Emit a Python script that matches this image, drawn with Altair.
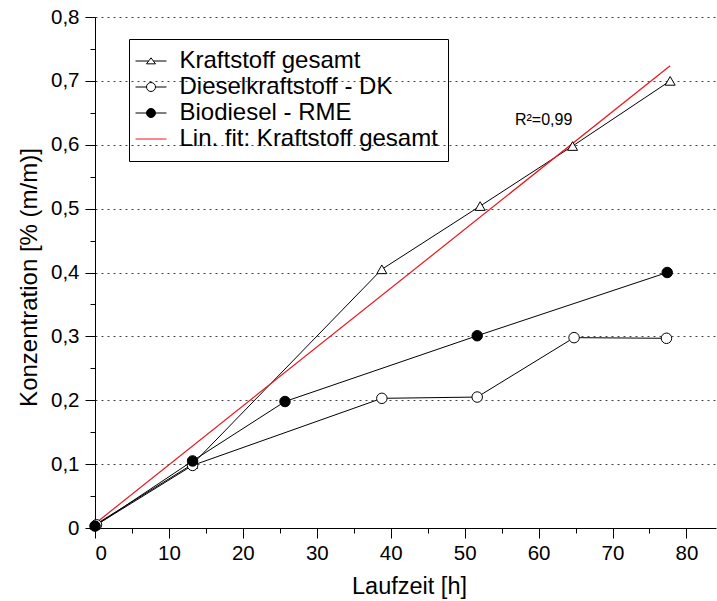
import altair as alt
import pandas as pd

# ---------------- data ----------------
series_names = ["Kraftstoff gesamt", "Dieselkraftstoff - DK", "Biodiesel - RME",
                "Lin. fit: Kraftstoff gesamt"]

t_gesamt = [0.0, 13.2, 38.8, 52.1, 64.6, 77.8]
c_gesamt = [0.005, 0.100, 0.405, 0.504, 0.598, 0.700]

t_dk = [0.2, 13.2, 38.8, 51.7, 64.8, 77.3]
c_dk = [0.005, 0.098, 0.203, 0.205, 0.298, 0.297]

t_rme = [0.0, 13.2, 25.7, 51.7, 77.4]
c_rme = [0.003, 0.105, 0.198, 0.301, 0.400]

x_major = [0, 10, 20, 30, 40, 50, 60, 70, 80]
x_minor = [5, 15, 25, 35, 45, 55, 65, 75]
y_major = [0, 0.1, 0.2, 0.3, 0.4, 0.5, 0.6, 0.7, 0.8]
y_minor = [0.05, 0.15, 0.25, 0.35, 0.45, 0.55, 0.65, 0.75]

annot_text = ["R\u00b2=0,99"]
annot_t = [56.8]
annot_c = [0.631]

# ---------------- styling ----------------
FONT = "Liberation Sans"
RED = "#e8161b"

def frame(ts, cs, name):
    return pd.DataFrame({"t": ts, "c": cs, "series": name})

df_g = frame(t_gesamt, c_gesamt, series_names[0])
df_dk = frame(t_dk, c_dk, series_names[1])
df_rme = frame(t_rme, c_rme, series_names[2])
df_all = pd.concat([df_g, df_dk, df_rme], ignore_index=True)
df_leg = pd.DataFrame({"series": series_names})
df_annot = pd.DataFrame({"t": annot_t, "c": annot_c, "label": annot_text})

xs = alt.Scale(domain=[0, 84], nice=False, zero=False)
ys = alt.Scale(domain=[0, 0.8], nice=False, zero=False)

major_x = alt.Axis(values=x_major, orient="bottom", tickSize=10, labelPadding=5.5,
                   labelFontSize=20.5, format="d", grid=False, zindex=0,
                   title="Laufzeit [h]", titleFontSize=23.5, titleX=314, titleY=65,
                   titleBaseline="alphabetic")
major_y = alt.Axis(values=y_major, orient="left", tickSize=10, labelPadding=6,
                   labelFontSize=20.5,
                   labelExpr="datum.value == 0 ? '0' : replace(format(datum.value, '.1f'), '.', ',')",
                   grid=True, gridDash=[2, 4], gridColor="#444444", gridWidth=1, zindex=0,
                   title="Konzentration [% (m/m)]", titleFontSize=24, titleAngle=270,
                   titleX=-58.3, titleY=260, titleBaseline="alphabetic")
minor_x = alt.Axis(values=x_minor, orient="bottom", tickSize=5, labels=False,
                   domain=False, grid=False, title=None, zindex=0)
minor_y = alt.Axis(values=y_minor, orient="left", tickSize=5, labels=False,
                   domain=False, grid=False, title=None, zindex=0)

lines = alt.Chart(df_all).mark_line(color="black", strokeWidth=1).encode(
    x=alt.X("t:Q", scale=xs, axis=major_x),
    y=alt.Y("c:Q", scale=ys, axis=major_y),
    detail="series:N",
)

fit = alt.Chart(df_g).transform_regression("t", "c").mark_line(
    color=RED, strokeWidth=1.2
).encode(
    x=alt.X("t:Q", scale=xs, axis=minor_x),
    y=alt.Y("c:Q", scale=ys, axis=minor_y),
)

def pts(df, shape, fill, size):
    return alt.Chart(df).mark_point(
        shape=shape, filled=True, fill=fill, stroke="black", strokeWidth=1,
        opacity=1, size=size
    ).encode(
        x=alt.X("t:Q", scale=xs, axis=None),
        y=alt.Y("c:Q", scale=ys, axis=None),
    )

p_g = pts(df_g, "triangle-up", "white", 100)
p_dk = pts(df_dk, "circle", "white", 110)
p_rme = pts(df_rme, "circle", "black", 110)

annot = alt.Chart(df_annot).mark_text(
    align="left", baseline="alphabetic", font=FONT, fontSize=16, color="black"
).encode(
    x=alt.X("t:Q", scale=xs, axis=None),
    y=alt.Y("c:Q", scale=ys, axis=None),
    text="label:N",
)

sym_tri = "M-3.44,0H-0.53M0.53,0H3.44M0,-0.7L1,0.63L-1,0.63Z"
sym_circ = "M-3.44,0H-1M1,0H3.44M-1,0A1,1,0,1,1,1,0A1,1,0,1,1,-1,0Z"
sym_line = "M-3.44,0H3.44"

leg = alt.Legend(title=None, orient="none", legendX=34, legendY=22, padding=10,
                 strokeColor="black", labelFont=FONT, labelFontSize=24, labelLimit=600,
                 labelColor="black", symbolSize=81, symbolStrokeWidth=1,
                 symbolOffset=0, labelOffset=16.5, rowPadding=2,
                 symbolFillColor="white", symbolStrokeColor="black", symbolOpacity=1)

legend_layer = alt.Chart(df_leg).mark_point(size=0, opacity=0).encode(
    shape=alt.Shape("series:N", scale=alt.Scale(domain=series_names,
                                                range=[sym_tri, sym_circ, sym_circ, sym_line]),
                    legend=leg),
    fill=alt.Fill("series:N", scale=alt.Scale(domain=series_names,
                                              range=["white", "white", "black", "transparent"]),
                  legend=leg),
    stroke=alt.Stroke("series:N", scale=alt.Scale(domain=series_names,
                                                  range=["black", "black", "black", RED]),
                      legend=leg),
)

chart = alt.layer(lines, fit, p_g, p_dk, p_rme, annot, legend_layer).resolve_axis(
    x="independent", y="independent"
).properties(
    width=621, height=511,
    padding={"left": 95, "top": 17, "right": 1, "bottom": 73},
    autosize=alt.AutoSizeParams(type="none"),
).configure(
    font=FONT, background="white"
).configure_view(
    stroke=None
).configure_axis(
    domainColor="black", domainWidth=1, tickColor="black", tickWidth=1,
    labelColor="black", titleColor="black", labelFont=FONT, titleFont=FONT,
    titleFontWeight="normal",
)

chart.save("out.html", embed_options={"renderer": "svg", "actions": False})
